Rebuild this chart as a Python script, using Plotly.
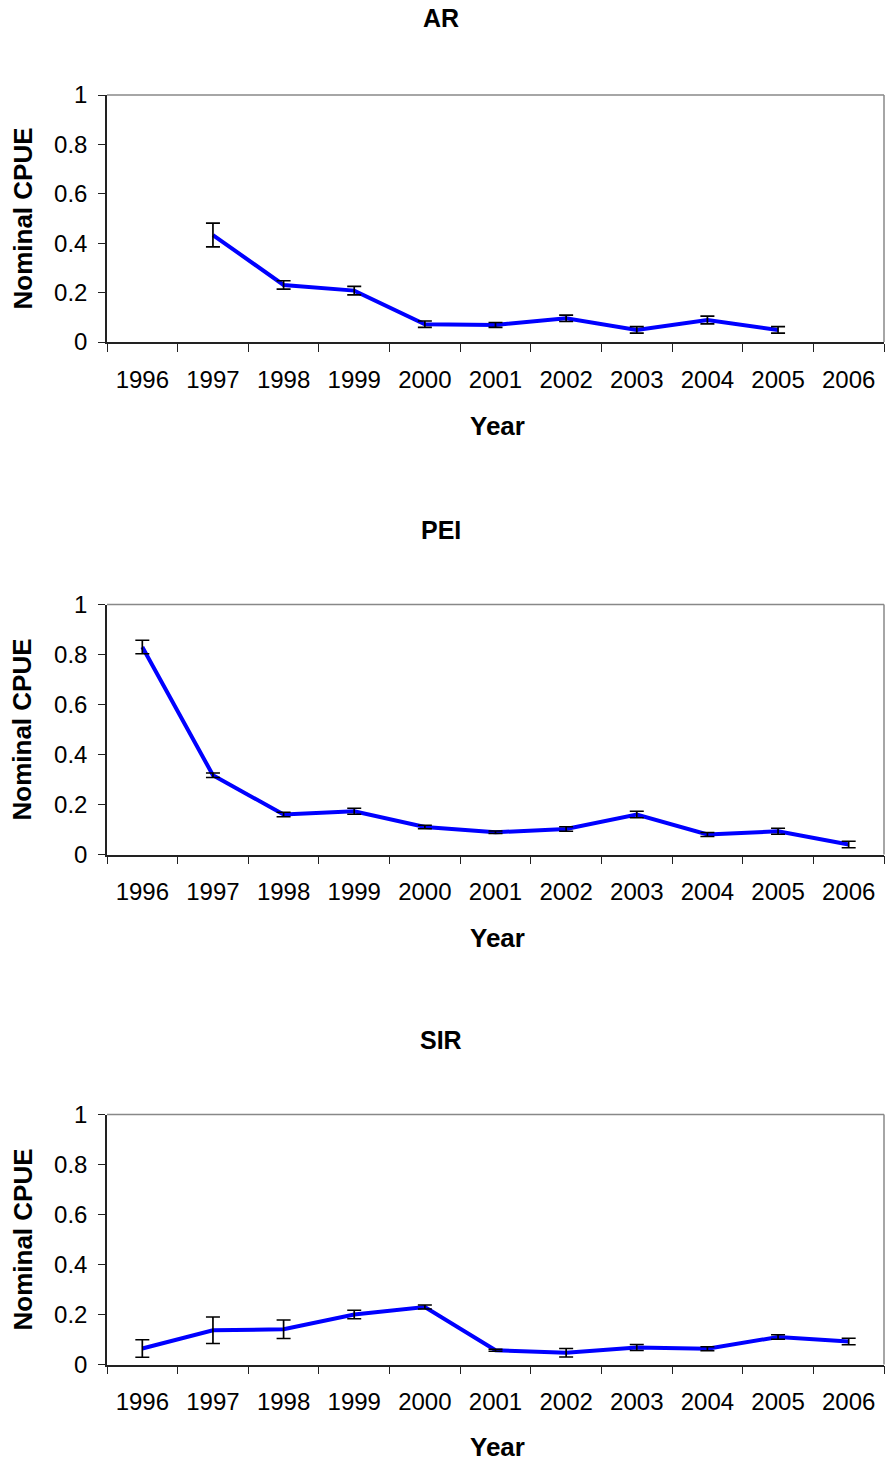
import plotly.graph_objects as go

years = [1996, 1997, 1998, 1999, 2000, 2001, 2002, 2003, 2004, 2005, 2006]

ar_cpue = [None, 0.433, 0.231, 0.208, 0.072, 0.069, 0.096, 0.049, 0.089, 0.049, None]
ar_err = [None, 0.048, 0.017, 0.017, 0.013, 0.010, 0.013, 0.013, 0.016, 0.013, None]

pei_cpue = [0.830, 0.317, 0.160, 0.173, 0.110, 0.089, 0.102, 0.160, 0.080, 0.093, 0.040]
pei_err = [0.027, 0.009, 0.009, 0.012, 0.007, 0.005, 0.009, 0.013, 0.008, 0.012, 0.013]

sir_cpue = [0.064, 0.137, 0.141, 0.200, 0.230, 0.057, 0.047, 0.068, 0.063, 0.110, 0.092]
sir_err = [0.035, 0.053, 0.037, 0.017, 0.008, 0.004, 0.017, 0.012, 0.008, 0.009, 0.013]

panel_titles = ["AR", "PEI", "SIR"]
y_title = "Nominal CPUE"
x_title = "Year"

W, H = 886, 1463
FONT = "Liberation Sans, Arial, sans-serif"

panels_px = [(95, 342), (604.5, 854.5), (1114.5, 1364.5)]
title_y_px = [18, 530, 1040]
xtitle_y_px = [426, 938, 1447]
x_left, x_right = 107, 884

fig = go.Figure()
series = [(ar_cpue, ar_err), (pei_cpue, pei_err), (sir_cpue, sir_err)]

for i, (vals, errs) in enumerate(series):
    xa = "x" if i == 0 else f"x{i+1}"
    ya = "y" if i == 0 else f"y{i+1}"
    fig.add_trace(go.Scatter(
        x=years, y=vals, mode="lines", xaxis=xa, yaxis=ya,
        line=dict(color="#0000FF", width=4), showlegend=False, hoverinfo="skip",
    ))
    fig.add_trace(go.Scatter(
        x=years, y=vals, mode="markers", xaxis=xa, yaxis=ya,
        marker=dict(size=1, opacity=0),
        error_y=dict(type="data", array=errs, visible=True, color="black",
                     thickness=1.7, width=7),
        showlegend=False, hoverinfo="skip",
    ))

layout = dict(
    width=W, height=H, margin=dict(l=0, r=0, t=0, b=0, pad=0, autoexpand=False),
    paper_bgcolor="white", plot_bgcolor="white",
    font=dict(family=FONT, color="black", size=24),
    showlegend=False,
)

annotations = []
shapes = []
for i, (top, bot) in enumerate(panels_px):
    sfx = "" if i == 0 else str(i + 1)
    ydom = [1 - bot / H, 1 - top / H]
    layout["xaxis" + sfx] = dict(
        domain=[x_left / W, x_right / W], anchor="y" + sfx, automargin=False,
        range=[1995.5, 2006.5], tickmode="array", tickvals=years,
        ticktext=[str(y) for y in years], ticks="", showgrid=False,
        zeroline=False, showline=True, linecolor="#222222", linewidth=1.5,
        tickfont=dict(size=24, family=FONT, color="black"),
        ticklabelstandoff=15,
        minor=dict(tickmode="linear", tick0=1995.5, dtick=1, ticks="outside",
                   ticklen=8, tickwidth=1.2, tickcolor="#222222", showgrid=False),
        fixedrange=True,
    )
    layout["yaxis" + sfx] = dict(
        domain=ydom, anchor="x" + sfx, automargin=False, range=[0, 1], dtick=0.2, tick0=0,
        ticks="outside", ticklen=7, tickwidth=1.2, tickcolor="#222222",
        showgrid=False, zeroline=False, showline=True, linecolor="#222222",
        linewidth=1.5, tickfont=dict(size=24, family=FONT, color="black"),
        ticklabelstandoff=6, fixedrange=True,
    )
    shapes.append(dict(type="line", xref="paper", yref="paper",
                       x0=x_left / W, x1=x_right / W, y0=ydom[1], y1=ydom[1],
                       line=dict(color="#888888", width=1.5)))
    shapes.append(dict(type="line", xref="paper", yref="paper",
                       x0=x_right / W, x1=x_right / W, y0=ydom[0], y1=ydom[1],
                       line=dict(color="#888888", width=1.5)))
    annotations.append(dict(text=f"<b>{panel_titles[i]}</b>", xref="paper", yref="paper",
                            x=441 / W, y=1 - title_y_px[i] / H, xanchor="center",
                            yanchor="middle", showarrow=False,
                            font=dict(size=25, family=FONT, color="black")))
    annotations.append(dict(text=f"<b>{x_title}</b>", xref="paper", yref="paper",
                            x=497 / W, y=1 - xtitle_y_px[i] / H, xanchor="center",
                            yanchor="middle", showarrow=False,
                            font=dict(size=26, family=FONT, color="black")))
    annotations.append(dict(text=f"<b>{y_title}</b>", xref="paper", yref="paper",
                            x=22 / W, y=1 - (top + bot) / 2 / H, xanchor="center",
                            yanchor="middle", showarrow=False, textangle=-90,
                            font=dict(size=26, family=FONT, color="black")))

layout["annotations"] = annotations
layout["shapes"] = shapes
fig.update_layout(**layout)
fig.write_html("out.html")
